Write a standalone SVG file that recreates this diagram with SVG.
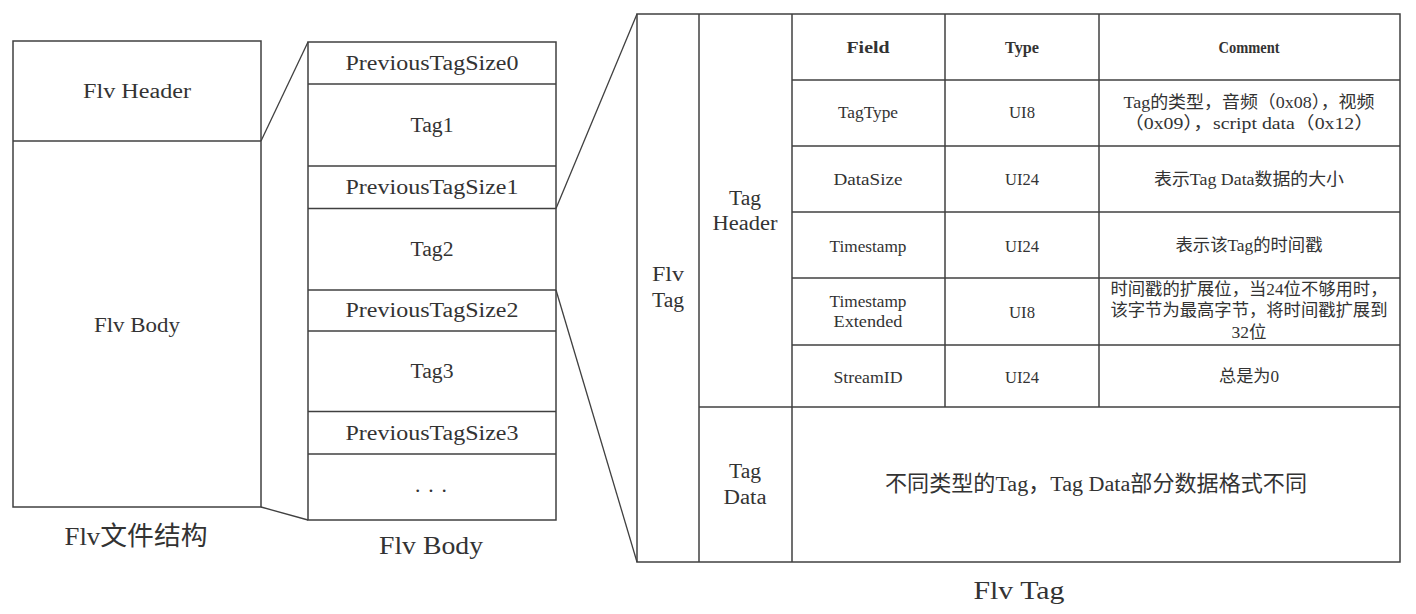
<svg xmlns="http://www.w3.org/2000/svg" width="1416" height="614" viewBox="0 0 1416 614">
<style>
  .ln { fill: none; stroke: #404040; stroke-width: 1.5; }
  .cn { fill: none; stroke: #404040; stroke-width: 1.3; }
  text { font-family: "Liberation Serif", "Noto Sans CJK SC", serif; fill: #333; text-anchor: middle; }
  .m { font-size: 21.6px; }
  .b { font-size: 26px; }
  .t { font-size: 17.3px; }
  .h { font-size: 17px; font-weight: bold; }
</style>
<rect width="1416" height="614" fill="#ffffff"/>

<g id="flv-file">
  <rect class="ln" x="13" y="41" width="248" height="466"/>
  <line class="ln" x1="13" y1="141" x2="261" y2="141"/>
  <text class="m" x="137" y="98" textLength="108" lengthAdjust="spacingAndGlyphs">Flv Header</text>
  <text class="m" x="137" y="332" textLength="86" lengthAdjust="spacingAndGlyphs">Flv Body</text>
  <text class="b" x="136" y="545" textLength="143" lengthAdjust="spacingAndGlyphs">Flv文件结构</text>
</g>

<g id="flv-body">
  <rect class="ln" x="308" y="42" width="248" height="478"/>
  <line class="ln" x1="308" y1="84" x2="556" y2="84"/>
  <line class="ln" x1="308" y1="166" x2="556" y2="166"/>
  <line class="ln" x1="308" y1="208.5" x2="556" y2="208.5"/>
  <line class="ln" x1="308" y1="290" x2="556" y2="290"/>
  <line class="ln" x1="308" y1="331" x2="556" y2="331"/>
  <line class="ln" x1="308" y1="411.5" x2="556" y2="411.5"/>
  <line class="ln" x1="308" y1="454" x2="556" y2="454"/>
  <text class="m" x="432" y="70" textLength="173" lengthAdjust="spacingAndGlyphs">PreviousTagSize0</text>
  <text class="m" x="432" y="132" textLength="43" lengthAdjust="spacingAndGlyphs">Tag1</text>
  <text class="m" x="432" y="194" textLength="173" lengthAdjust="spacingAndGlyphs">PreviousTagSize1</text>
  <text class="m" x="432" y="256" textLength="43" lengthAdjust="spacingAndGlyphs">Tag2</text>
  <text class="m" x="432" y="317" textLength="173" lengthAdjust="spacingAndGlyphs">PreviousTagSize2</text>
  <text class="m" x="432" y="378" textLength="43" lengthAdjust="spacingAndGlyphs">Tag3</text>
  <text class="m" x="432" y="440" textLength="173" lengthAdjust="spacingAndGlyphs">PreviousTagSize3</text>
  <text class="m" x="431" y="492" textLength="32" lengthAdjust="spacing">...</text>
  <text class="b" x="431" y="554" textLength="104" lengthAdjust="spacingAndGlyphs">Flv Body</text>
</g>

<g id="flv-tag">
  <rect class="ln" x="637" y="14" width="763" height="548"/>
  <line class="ln" x1="699" y1="14" x2="699" y2="562"/>
  <line class="ln" x1="792" y1="14" x2="792" y2="562"/>
  <line class="ln" x1="945" y1="14" x2="945" y2="407"/>
  <line class="ln" x1="1099" y1="14" x2="1099" y2="407"/>
  <line class="ln" x1="792" y1="80" x2="1400" y2="80" stroke-width="2"/>
  <line class="ln" x1="792" y1="146" x2="1400" y2="146"/>
  <line class="ln" x1="792" y1="212" x2="1400" y2="212"/>
  <line class="ln" x1="792" y1="278" x2="1400" y2="278"/>
  <line class="ln" x1="792" y1="345" x2="1400" y2="345"/>
  <line class="ln" x1="699" y1="407" x2="1400" y2="407"/>

  <text class="m" x="668" y="281" textLength="32" lengthAdjust="spacingAndGlyphs">Flv</text>
  <text class="m" x="668" y="307" textLength="32" lengthAdjust="spacingAndGlyphs">Tag</text>
  <text class="m" x="745" y="205" textLength="32" lengthAdjust="spacingAndGlyphs">Tag</text>
  <text class="m" x="745" y="230" textLength="65" lengthAdjust="spacingAndGlyphs">Header</text>
  <text class="m" x="745" y="478" textLength="32" lengthAdjust="spacingAndGlyphs">Tag</text>
  <text class="m" x="745" y="504" textLength="43" lengthAdjust="spacingAndGlyphs">Data</text>

  <text class="h" x="868" y="53" textLength="43" lengthAdjust="spacingAndGlyphs">Field</text>
  <text class="h" x="1022" y="53" textLength="34" lengthAdjust="spacingAndGlyphs">Type</text>
  <text class="h" x="1249" y="53" textLength="61" lengthAdjust="spacingAndGlyphs">Comment</text>

  <text class="t" x="868" y="118" textLength="60" lengthAdjust="spacingAndGlyphs">TagType</text>
  <text class="t" x="1022" y="118" textLength="26" lengthAdjust="spacingAndGlyphs">UI8</text>
  <text class="t" x="1249" y="108" textLength="251" lengthAdjust="spacingAndGlyphs">Tag的类型，音频（0x08），视频</text>
  <text class="t" x="1249" y="129" textLength="250" lengthAdjust="spacingAndGlyphs">（0x09），script data（0x12）</text>

  <text class="t" x="868" y="185" textLength="69" lengthAdjust="spacingAndGlyphs">DataSize</text>
  <text class="t" x="1022" y="185" textLength="34" lengthAdjust="spacingAndGlyphs">UI24</text>
  <text class="t" x="1249" y="185" textLength="190" lengthAdjust="spacingAndGlyphs">表示Tag Data数据的大小</text>

  <text class="t" x="868" y="252" textLength="77" lengthAdjust="spacingAndGlyphs">Timestamp</text>
  <text class="t" x="1022" y="252" textLength="34" lengthAdjust="spacingAndGlyphs">UI24</text>
  <text class="t" x="1249" y="251" textLength="147" lengthAdjust="spacingAndGlyphs">表示该Tag的时间戳</text>

  <text class="t" x="868" y="307" textLength="77" lengthAdjust="spacingAndGlyphs">Timestamp</text>
  <text class="t" x="868" y="327" textLength="69" lengthAdjust="spacingAndGlyphs">Extended</text>
  <text class="t" x="1022" y="318" textLength="26" lengthAdjust="spacingAndGlyphs">UI8</text>
  <text class="t" x="1249" y="295" textLength="277" lengthAdjust="spacingAndGlyphs">时间戳的扩展位，当24位不够用时，</text>
  <text class="t" x="1249" y="316" textLength="277" lengthAdjust="spacingAndGlyphs">该字节为最高字节，将时间戳扩展到</text>
  <text class="t" x="1249" y="338" textLength="35" lengthAdjust="spacingAndGlyphs">32位</text>

  <text class="t" x="868" y="383" textLength="69" lengthAdjust="spacingAndGlyphs">StreamID</text>
  <text class="t" x="1022" y="383" textLength="34" lengthAdjust="spacingAndGlyphs">UI24</text>
  <text class="t" x="1249" y="382" textLength="60" lengthAdjust="spacingAndGlyphs">总是为0</text>

  <text class="m" x="1096" y="491" textLength="422" lengthAdjust="spacingAndGlyphs">不同类型的Tag，Tag Data部分数据格式不同</text>

  <text class="b" x="1019" y="599" textLength="91" lengthAdjust="spacingAndGlyphs">Flv Tag</text>
</g>

<g id="connectors">
  <line class="cn" x1="261" y1="141" x2="308" y2="42"/>
  <line class="cn" x1="261" y1="507" x2="308" y2="520"/>
  <line class="cn" x1="556" y1="208.5" x2="637" y2="14"/>
  <line class="cn" x1="556" y1="290" x2="637" y2="562"/>
</g>
</svg>
